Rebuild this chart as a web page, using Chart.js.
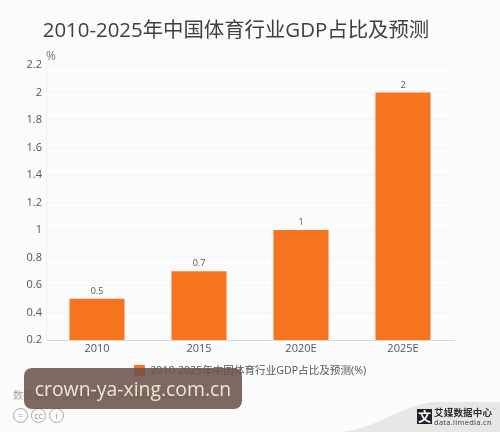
<!DOCTYPE html>
<html>
<head>
<meta charset="utf-8">
<style>
  html, body { margin: 0; padding: 0; background: #fcfbfb; }
  body { width: 500px; height: 432px; overflow: hidden; position: relative; font-family: "Open Sans", "Noto Sans CJK SC", sans-serif; }
  #chart-wrap { position: absolute; left: 0; top: 0; width: 500px; height: 432px; }
  .title { position: absolute; left: 0; top: 14px; width: 472px; text-align: center; font-size: 20.4px; line-height: 30px; color: #3f3f3f; white-space: nowrap; }
  .source { position: absolute; left: 13px; top: 387px; font-size: 10px; color: #a5a5a5; white-space: nowrap; }
  .cc { position: absolute; top: 408px; width: 13px; height: 13px; border: 1.5px solid #a8a8a8; border-radius: 50%; color: #999; font-size: 9px; line-height: 13px; text-align: center; }
  .mark { position: absolute; left: 24px; top: 368px; width: 218px; height: 41px; border-radius: 8px; background: rgba(108, 82, 73, 0.87); color: #e9e6d3; font-size: 19.4px; line-height: 41px; text-align: center; white-space: nowrap; }
  .swoosh { position: absolute; left: 340px; top: 400px; }
  .logo-box { position: absolute; left: 417px; top: 409px; width: 15px; height: 15px; background: #1d2326; color: #fff; font-size: 13px; line-height: 15px; text-align: center; font-weight: bold; }
  .logo-cn { position: absolute; left: 434px; top: 407px; font-size: 9.5px; letter-spacing: 0.2px; line-height: 11px; font-weight: bold; color: #2a2f31; white-space: nowrap; }
  .logo-en { position: absolute; left: 434px; top: 417px; font-size: 7.5px; letter-spacing: 0.3px; line-height: 10px; color: #3c4143; white-space: nowrap; }
</style>
</head>
<body>
<div id="chart-wrap"><canvas id="canvas-share"></canvas></div>
<div class="title" id="chart-title"></div>
<div class="source">数据来源：艾媒数据中心（data.iimedia.cn）</div>
<div class="cc" style="left:13px">=</div>
<div class="cc" style="left:31px">cc</div>
<div class="cc" style="left:49px">i</div>
<svg class="swoosh" width="160" height="32"><path d="M0 32 C40 28 62 4 96 2 L160 2 L160 32 Z" fill="#e7e7e5"/></svg>
<div class="logo-box">文</div>
<div class="logo-cn">艾媒数据中心</div>
<div class="logo-en">data.iimedia.cn</div>
<div class="mark">crown-ya-xing.com.cn</div>

<script src="https://cdn.jsdelivr.net/npm/chart.js@4/dist/chart.umd.min.js"></script>
<script>
const chartTitle = "2010-2025年中国体育行业GDP占比及预测";
const seriesName = "2010-2025年中国体育行业GDP占比及预测(%)";
const unitLabel = "%";
const years = ["2010", "2015", "2020E", "2025E"];
const shares = [0.5, 0.7, 1, 2];

const fontFamily = '"Open Sans", "Noto Sans CJK SC", sans-serif';

document.getElementById("chart-title").textContent = chartTitle;

// value labels above the bars and the unit above the y axis
const barLabels = {
  id: "barLabels",
  afterDatasetsDraw(chart) {
    const ctx = chart.ctx;
    ctx.save();
    ctx.font = "9px " + fontFamily;
    ctx.fillStyle = "#555";
    ctx.textAlign = "center";
    ctx.textBaseline = "bottom";
    chart.getDatasetMeta(0).data.forEach((bar, i) => {
      ctx.fillText(shares[i], bar.x, bar.y - 3);
    });
    ctx.font = "12px " + fontFamily;
    ctx.fillStyle = "#777";
    ctx.textAlign = "left";
    ctx.fillText(unitLabel, chart.scales.y.right, chart.scales.y.top - 2);
    ctx.restore();
  },
};

new Chart(document.getElementById("canvas-share"), {
  type: "bar",
  data: {
    labels: years,
    datasets: [
      {
        label: seriesName,
        data: shares,
        backgroundColor: "#f7741f",
        categoryPercentage: 0.54,
        barPercentage: 1,
      },
    ],
  },
  options: {
    responsive: true,
    maintainAspectRatio: false,
    animation: false,
    devicePixelRatio: 1,
    layout: { padding: { left: 0, right: 0, top: 65, bottom: 46 } },
    scales: {
      x: {
        afterFit(scale) { scale.height = 19; },
        grid: { display: false, tickLength: 0 },
        border: { color: "#d9d9d9" },
        ticks: { color: "#555", font: { size: 11, family: fontFamily }, padding: 2, maxRotation: 0 },
      },
      y: {
        min: 0.2,
        max: 2.2,
        afterFit(scale) { scale.width = 46; },
        grid: { color: "#f6f5f2", drawTicks: false },
        border: { color: "#eef0ee" },
        ticks: {
          stepSize: 0.2,
          padding: 4,
          color: "#555",
          font: { size: 11, family: fontFamily },
          callback: (v) => parseFloat(v.toFixed(1)),
        },
      },
      // empty axis, only keeps the plot clear of the right edge
      spacer: {
        position: "right",
        afterFit(scale) { scale.width = 46; },
        grid: { display: false },
        border: { display: false },
        ticks: { display: false },
      },
    },
    plugins: {
      title: { display: false },
      legend: {
        position: "bottom",
        labels: {
          boxWidth: 11,
          boxHeight: 11,
          color: "#555",
          padding: 6,
          font: { size: 10.6, family: fontFamily },
        },
      },
      tooltip: { enabled: false },
    },
  },
  plugins: [barLabels],
});
</script>
</body>
</html>
